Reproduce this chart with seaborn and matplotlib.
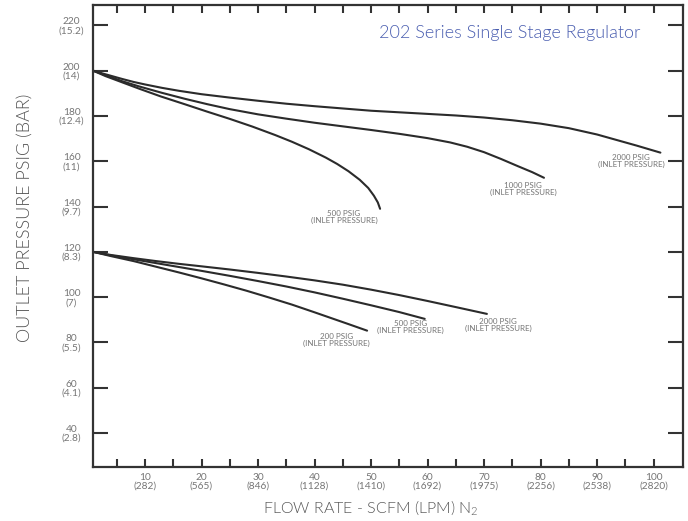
import numpy as np
import pandas as pd
import matplotlib
matplotlib.use("Agg")
import matplotlib.pyplot as plt
import seaborn as sns

# ---- data ----
x_up_2000 = [0.8, 2, 4, 6, 8, 10, 13, 16, 20, 25, 30, 35, 40, 45, 50, 55, 60, 65, 70, 75, 80, 85, 90, 93, 97, 101.2]
y_up_2000 = [200, 199.1, 197.7, 196.3, 195.0, 193.9, 192.4, 191.1, 189.6, 188.1, 186.7, 185.4, 184.3, 183.3,
             182.3, 181.6, 180.9, 180.2, 179.3, 178.1, 176.6, 174.6, 171.8, 169.7, 166.9, 163.8]

x_up_1000 = [0.8, 3, 6, 9, 13, 17, 21, 25, 30, 35, 40, 45, 50, 55, 60, 64, 67, 70, 73, 76, 78.5, 80.6]
y_up_1000 = [200, 198.0, 195.3, 193.0, 190.2, 187.6, 185.2, 183.0, 180.7, 178.8, 177.0, 175.4, 173.8, 172.1,
             170.2, 168.3, 166.4, 164.0, 161.0, 157.8, 155.2, 152.7]

x_up_500 = [0.8, 3, 6, 9, 12.8, 17, 21, 25, 29, 33, 36, 39, 42, 44, 46, 48, 49.5, 50.5, 51.2, 51.6]
y_up_500 = [200, 197.6, 194.8, 192.0, 188.6, 185.2, 181.9, 178.7, 175.3, 171.6, 168.6, 165.3, 161.6, 158.8,
            155.6, 151.8, 148.2, 144.8, 141.8, 139.0]

x_lo_2000 = [0.8, 4, 8, 12, 16, 20, 25, 30, 35, 40, 45, 50, 55, 60, 65, 70.5]
y_lo_2000 = [120, 118.6, 117.2, 115.9, 114.7, 113.6, 112.2, 110.7, 109.1, 107.4, 105.5, 103.3, 100.9, 98.3, 95.6, 92.6]

x_lo_500 = [0.8, 4, 8, 12, 16, 20, 25, 30, 35, 40, 45, 50, 55, 59.5]
y_lo_500 = [120, 118.4, 116.7, 115.0, 113.3, 111.6, 109.4, 107.1, 104.7, 102.1, 99.3, 96.4, 93.4, 90.4]

x_lo_200 = [0.8, 4, 8, 12, 16, 20, 24, 28, 32, 36, 40, 43, 46, 49.3]
y_lo_200 = [120, 118.1, 115.9, 113.4, 110.9, 108.3, 105.6, 102.8, 99.8, 96.7, 93.3, 90.7, 88.1, 85.2]

curve_names = ["up2000", "up1000", "up500", "lo2000", "lo500", "lo200"]
curve_labels = ["2000 PSIG\n(INLET PRESSURE)", "1000 PSIG\n(INLET PRESSURE)", "500 PSIG\n(INLET PRESSURE)",
                "2000 PSIG\n(INLET PRESSURE)", "500 PSIG\n(INLET PRESSURE)", "200 PSIG\n(INLET PRESSURE)"]
curves_x = [x_up_2000, x_up_1000, x_up_500, x_lo_2000, x_lo_500, x_lo_200]
curves_y = [y_up_2000, y_up_1000, y_up_500, y_lo_2000, y_lo_500, y_lo_200]
# label offsets from curve end (points)
label_offsets = [(-21, -6), (-15, -8), (-26, -6), (8, -8), (-10, -6), (-22, -7)]

x_ticks = [10, 20, 30, 40, 50, 60, 70, 80, 90, 100]
x_tick_lpm = ["282", "565", "846", "1128", "1410", "1692", "1975", "2256", "2538", "2820"]
y_ticks = [40, 60, 80, 100, 120, 140, 160, 180, 200, 220]
y_tick_bar = ["2.8", "4.1", "5.5", "7", "8.3", "9.7", "11", "12.4", "14", "15.2"]

title = "202 Series Single Stage Regulator"
xlabel = r"FLOW RATE - SCFM (LPM) N$_\mathregular{2}$"
ylabel = "OUTLET PRESSURE PSIG (BAR)"

# ---- style ----
sns.set_style("white")
plt.rcParams["font.family"] = ["Lato", "DejaVu Sans"]
plt.rcParams["mathtext.fontset"] = "custom"
plt.rcParams["mathtext.rm"] = "Lato"

frames = []
for name, xs, ys in zip(curve_names, curves_x, curves_y):
    frames.append(pd.DataFrame({"flow": xs, "pressure": ys, "curve": name}))
df = pd.concat(frames, ignore_index=True)

fig = plt.figure(figsize=(6.88, 5.21), dpi=100)
ax = fig.add_axes([93 / 688, 1 - 467 / 521, 590 / 688, 462.5 / 521])

line_color = "#2b2b2b"
sns.lineplot(data=df, x="flow", y="pressure", hue="curve", units="curve", estimator=None,
             palette={n: line_color for n in curve_names}, linewidth=1.5, legend=False, ax=ax)

ax.set_xlim(0.8, 105.2)
ax.set_ylim(25, 229.2)

spine_color = "#333333"
for s in ax.spines.values():
    s.set_color(spine_color)
    s.set_linewidth(1.6)

text_gray = "#757575"
ax.set_xticks(x_ticks)
ax.set_xticklabels([f"{a}\n({b})" for a, b in zip(x_ticks, x_tick_lpm)])
ax.set_xticks([5 + 10 * i for i in range(10)], minor=True)
ax.set_yticks(y_ticks)
ax.set_yticklabels([f"{a}\n({b})" for a, b in zip(y_ticks, y_tick_bar)])

ax.tick_params(axis="x", which="both", direction="in", length=6, width=1.5, color=spine_color,
               top=True, bottom=True, labelsize=7.3, labelcolor=text_gray, pad=4)
ax.tick_params(axis="y", which="major", direction="in", length=10.5, width=1.5, color=spine_color,
               left=True, right=True, labelsize=7.3, labelcolor=text_gray, pad=15.5)
for lab in ax.get_yticklabels():
    lab.set_horizontalalignment("center")
    lab.set_multialignment("center")
    lab.set_linespacing(1.0)
for lab in ax.get_xticklabels():
    lab.set_linespacing(1.0)
    lab.set_multialignment("center")

ax.set_xlabel(xlabel, fontsize=11.5, color="#555555", fontweight=300)
ax.xaxis.set_label_coords((371 - 93) / 590, (467 - 508) / 462.5)
ax.xaxis.label.set_verticalalignment("center")
ax.set_ylabel(ylabel, fontsize=13, color="#555555", fontweight=300)
ax.yaxis.set_label_coords((25 - 93) / 590, (467 - 218) / 462.5)
ax.yaxis.label.set_verticalalignment("center")

for xs, ys, lab, off in zip(curves_x, curves_y, curve_labels, label_offsets):
    ax.annotate(lab, xy=(xs[-1], ys[-1]), xytext=off, textcoords="offset points",
                ha="center", va="center", fontsize=5.8, color=text_gray, linespacing=1.0)

ax.text((640 - 93) / 590, (467 - 33) / 462.5, title, transform=ax.transAxes, ha="right", va="center",
        fontsize=13, color="#4a5eb0", fontweight=300)

fig.savefig("out.png", dpi=100)
